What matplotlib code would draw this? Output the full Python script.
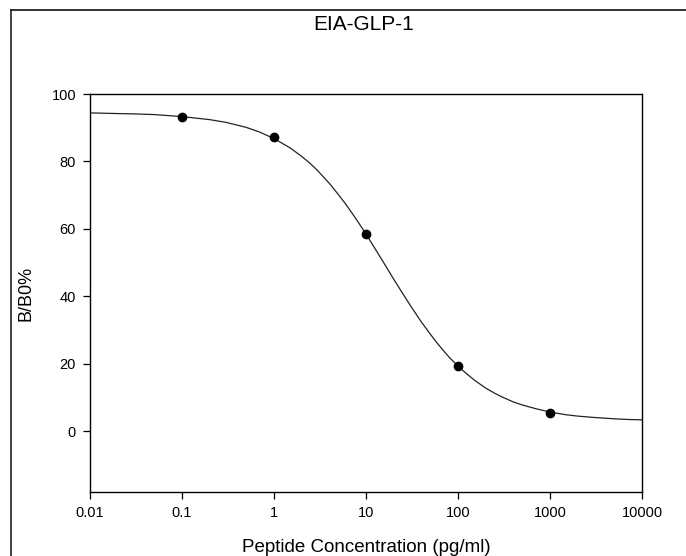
import matplotlib
matplotlib.use('Agg')
import matplotlib.pyplot as plt
from matplotlib.lines import Line2D

plt.rcParams['font.family'] = ['Liberation Sans', 'DejaVu Sans']

# measured standards
conc = [0.1, 1, 10, 100, 1000]
bb0 = [93.3, 87.3, 58.5, 19.3, 5.5]

# fitted curve
curve_x = [0.01, 0.02, 0.03, 0.05, 0.1, 0.2, 0.3, 0.5, 0.7, 1, 1.5, 2, 2.5, 3,
           4, 5, 6, 7, 8, 10, 12, 15, 20, 25, 30, 40, 50, 60, 70, 80, 100,
           120, 150, 200, 250, 300, 400, 500, 700, 1000, 1500, 2000, 3000,
           5000, 7000, 10000]
curve_y = [94.4, 94.2, 94.1, 93.9, 93.3, 92.4, 91.6, 90.1, 88.7, 86.8, 84.0,
           81.5, 79.3, 77.2, 73.5, 70.2, 67.4, 64.8, 62.5, 58.5, 55.0, 50.7,
           45.1, 40.9, 37.5, 32.4, 28.8, 26.0, 23.8, 22.0, 19.3, 17.4, 15.2,
           12.8, 11.3, 10.2, 8.7, 7.8, 6.7, 5.7, 4.9, 4.5, 4.1, 3.7, 3.5, 3.4]

xticks = [0.01, 0.1, 1, 10, 100, 1000, 10000]
xtick_labels = ['0.01', '0.1', '1', '10', '100', '1000', '10000']
yticks = [0, 20, 40, 60, 80, 100]

W, H = 686, 556
fig = plt.figure(figsize=(W / 100, H / 100), dpi=100)
ax = fig.add_axes([90 / W, 1 - 492 / H, (642 - 90) / W, (492 - 94) / H])

ax.plot(curve_x, curve_y, color='#222222', linewidth=0.9)
ax.plot(conc, bb0, 'o', color='black', markersize=6)

ax.set_xscale('log')
ax.set_xlim(0.01, 10000)
ax.set_ylim(-18, 100)
ax.set_xticks(xticks)
ax.set_xticklabels(xtick_labels)
ax.minorticks_off()
ax.set_yticks(yticks)
ax.tick_params(direction='out', length=5, width=0.9, labelsize=10.5, pad=5)
for s in ax.spines.values():
    s.set_linewidth(1.0)

ax.set_xlabel('Peptide Concentration (pg/ml)', fontsize=13.5, va='center')
ax.xaxis.set_label_coords(0.5, (492 - 547) / 398)
ax.set_ylabel('B/B0%', fontsize=13, va='center')
ax.yaxis.set_label_coords((26 - 90) / 552, 0.5)

fig.text(364 / W, 1 - 25 / H, 'EIA-GLP-1', fontsize=15, ha='center', va='center')

# outer frame (left and top edges)
fig.add_artist(Line2D([11 / W, 11 / W], [0, 1 - 10 / H], color='#333333', linewidth=1.3))
fig.add_artist(Line2D([11 / W, 1], [1 - 10 / H, 1 - 10 / H], color='#222222', linewidth=1.3))

fig.savefig('out.png', dpi=100)
